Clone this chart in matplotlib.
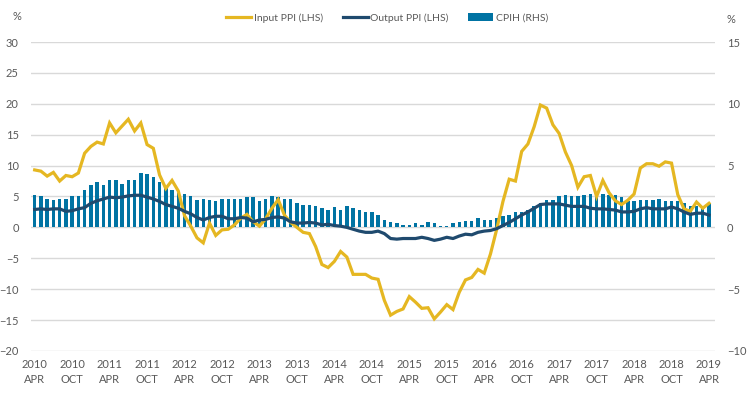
import numpy as np
import matplotlib.pyplot as plt
from matplotlib.patches import Patch
from matplotlib.lines import Line2D

# monthly, Apr 2010 .. Apr 2019 (109 months)
input_ppi = [
    9.3, 9.1, 8.3, 8.9, 7.5, 8.4, 8.2, 8.8, 12.0, 13.1,
    13.8, 13.5, 16.9, 15.3, 16.4, 17.5, 15.6, 16.9, 13.4, 12.8,
    8.5, 6.3, 7.6, 5.9, 1.9, 0.2, -1.7, -2.5, 0.7, -1.3,
    -0.4, -0.3, 0.4, 1.5, 2.1, 0.9, 0.2, 1.4, 3.1, 4.5,
    2.0, 0.8, 0.0, -0.8, -1.0, -3.1, -6.0, -6.5, -5.5, -3.9,
    -4.8, -7.6, -7.6, -7.6, -8.2, -8.4, -11.8, -14.2, -13.6, -13.2,
    -11.2, -12.1, -13.1, -13.0, -14.8, -13.7, -12.5, -13.3, -10.5, -8.5,
    -8.1, -6.8, -7.4, -4.3, -0.3, 4.2, 7.8, 7.5, 12.3, 13.5,
    16.3, 19.8, 19.3, 16.6, 15.2, 12.2, 10.0, 6.5, 8.2, 8.4,
    5.0, 7.6, 5.6, 4.3, 3.7, 4.4, 5.4, 9.6, 10.3, 10.3,
    9.9, 10.6, 10.4, 5.3, 3.0, 2.6, 4.1, 3.1, 3.9,
]
output_ppi = [
    2.9, 3.0, 2.9, 3.0, 3.0, 2.6, 2.7, 3.0, 3.2, 3.9,
    4.3, 4.6, 4.9, 4.8, 4.9, 5.1, 5.2, 5.2, 4.9, 4.6,
    4.2, 3.7, 3.4, 3.1, 2.6, 2.2, 1.6, 1.2, 1.6, 1.8,
    1.8, 1.4, 1.4, 1.6, 1.5, 0.9, 1.2, 1.3, 1.6, 1.7,
    1.5, 0.9, 0.7, 0.7, 0.8, 0.7, 0.4, 0.5, 0.3, 0.2,
    0.0, -0.3, -0.6, -0.8, -0.8, -0.6, -1.0, -1.8, -1.9, -1.8,
    -1.8, -1.8, -1.6, -1.8, -2.1, -1.9, -1.6, -1.8, -1.4, -1.1,
    -1.2, -0.8, -0.6, -0.5, -0.2, 0.3, 0.8, 1.4, 2.0, 2.5,
    3.1, 3.7, 3.8, 3.8, 3.8, 3.6, 3.4, 3.4, 3.4, 3.1,
    3.0, 3.0, 2.9, 2.8, 2.5, 2.5, 2.6, 3.0, 3.2, 3.0,
    3.0, 3.0, 3.3, 3.0, 2.5, 2.1, 2.3, 2.3, 2.0,
]
cpih = [
    2.65, 2.5, 2.3, 2.25, 2.3, 2.3, 2.5, 2.55, 3.05, 3.4,
    3.7, 3.45, 3.8, 3.8, 3.55, 3.8, 3.85, 4.4, 4.3, 4.1,
    3.7, 3.2, 3.05, 2.8, 2.7, 2.5, 2.25, 2.3, 2.25, 2.1,
    2.3, 2.3, 2.3, 2.3, 2.45, 2.45, 2.15, 2.3, 2.54, 2.43,
    2.27, 2.27, 2.0, 1.8, 1.8, 1.7, 1.6, 1.4, 1.65, 1.4,
    1.73, 1.57, 1.4, 1.25, 1.25, 1.0, 0.6, 0.43, 0.35, 0.19,
    0.19, 0.38, 0.19, 0.45, 0.38, 0.12, 0.12, 0.38, 0.46, 0.51,
    0.51, 0.74, 0.6, 0.6, 0.75, 0.9, 0.97, 1.24, 1.24, 1.43,
    1.76, 1.97, 2.24, 2.24, 2.57, 2.65, 2.57, 2.57, 2.65, 2.73,
    2.57, 2.7, 2.6, 2.65, 2.49, 2.1, 2.16, 2.24, 2.24, 2.24,
    2.32, 2.16, 2.16, 2.16, 1.97, 1.76, 1.76, 1.76, 1.97,
]
tick_years = [2010, 2010, 2011, 2011, 2012, 2012, 2013, 2013, 2014, 2014,
              2015, 2015, 2016, 2016, 2017, 2017, 2018, 2018, 2019]
tick_months = ["APR", "OCT"] * 9 + ["APR"]
tick_labels = [f"{y}\n{m}" for y, m in zip(tick_years, tick_months)]

YELLOW = "#E5B722"
NAVY = "#1F4A6E"
BLUE = "#0073A3"
GRID = "#D9D9D9"
TEXT = "#595959"

plt.rcParams["font.family"] = ["Lato", "DejaVu Sans"]
plt.rcParams["font.size"] = 8

x = np.arange(len(input_ppi))

fig = plt.figure(figsize=(7.49, 3.97), dpi=100)
ax = fig.add_axes([0.0417, 0.1159, 0.9124, 0.7783])
ax2 = ax.twinx()

# bars + grid on the right axis, lines on top
ax2.bar(x, cpih, width=0.55, color=BLUE, zorder=2)
ax2.set_ylim(-10, 15)
ax2.set_yticks(np.arange(-10, 16, 5))
ax2.set_yticks(np.arange(-10, 15.1, 2.5), minor=True)
ax2.grid(True, which="both", axis="y", color=GRID, linewidth=1.0, zorder=0)
ax2.set_axisbelow(True)

ax.plot(x, input_ppi, color=YELLOW, linewidth=2.3, solid_joinstyle="miter")
ax.plot(x, output_ppi, color=NAVY, linewidth=2.3)
ax.set_ylim(-20, 30)
ax.set_yticks(np.arange(-20, 31, 5))
ax.set_xlim(-0.55, 108.9)
ax.set_xticks(x[::6])
ax.set_xticklabels(tick_labels, linespacing=1.45)

ax.set_zorder(ax2.get_zorder() + 1)
ax.patch.set_visible(False)

for a in (ax, ax2):
    for s in a.spines.values():
        s.set_visible(False)
    a.tick_params(which="both", length=0, colors=TEXT, labelsize=8)
ax.tick_params(axis="y", pad=9)
ax.tick_params(axis="x", pad=6)
ax2.tick_params(axis="y", pad=9)

fig.text(0.022, 0.958, "%", color=TEXT, fontsize=8, ha="center", va="center")
fig.text(0.976, 0.952, "%", color=TEXT, fontsize=8, ha="center", va="center")

handles = [
    Line2D([], [], color=YELLOW, linewidth=2.3),
    Line2D([], [], color=NAVY, linewidth=2.3),
    Patch(facecolor=BLUE),
]
labels = ["Input PPI (LHS)", "Output PPI (LHS)", "CPIH (RHS)"]
fig.legend(handles, labels, loc="center", bbox_to_anchor=(0.517, 0.955), ncol=3,
           frameon=False, fontsize=7.5, handlelength=2.4, handletextpad=0.25,
           columnspacing=1.9, labelcolor=TEXT)

fig.savefig("out.png", dpi=100)
